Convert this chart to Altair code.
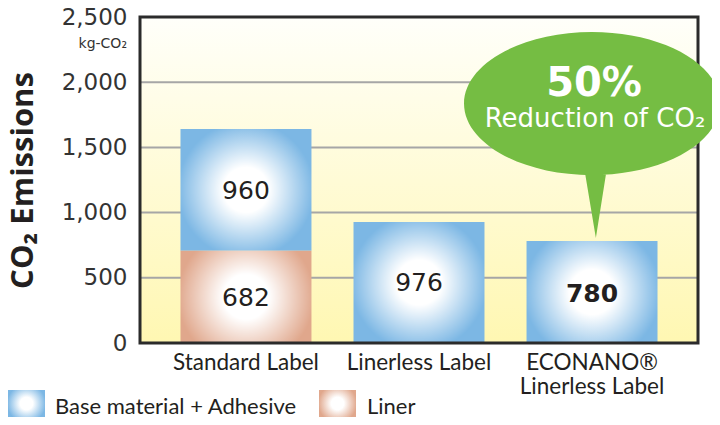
import altair as alt
import pandas as pd

# ---------------- data ----------------
categories = ["Standard Label", "Linerless Label", "ECONANO®\nLinerless Label"]
seg_category = [categories[0], categories[0], categories[1], categories[2]]
seg_kind = ["Liner", "Base material + Adhesive", "Base material + Adhesive", "Base material + Adhesive"]
seg_start = [0, 708, 0, 0]
seg_end = [708, 1641, 928, 782]
seg_label = ["682", "960", "976", "780"]
seg_bold = [False, False, False, True]

y_ticks = [0, 500, 1000, 1500, 2000, 2500]
grid_values = [500, 1000, 1500, 2000]

bubble_center = 1836
bubble_title = "50%"
bubble_title_y = 1986
bubble_sub = "Reduction of CO₂"
bubble_sub_y = 1718

legend_items = ["Base material + Adhesive", "Liner"]

# ---------------- styles ----------------
W, H = 558, 326
BLUE = "#7cb7e4"
LINER = "#e0a78c"
GREEN = "#75bd43"
TEXT = "#231f20"


def radial(color):
    return alt.RadialGradient(
        gradient="radial",
        stops=[alt.GradientStop(color="#ffffff", offset=0),
               alt.GradientStop(color="#ffffff", offset=0.33),
               alt.GradientStop(color=color, offset=1)],
        x1=0.5, y1=0.5, x2=0.5, y2=0.5, r1=0, r2=0.52)


bg_grad = alt.LinearGradient(
    gradient="linear",
    stops=[alt.GradientStop(color="#fffffa", offset=0),
           alt.GradientStop(color="#fff7b2", offset=1)],
    x1=0, y1=0, x2=0, y2=1)

df = pd.DataFrame({
    "cat": seg_category,
    "kind": seg_kind,
    "start": seg_start,
    "end": seg_end,
    "label": seg_label,
    "bold": seg_bold,
})
df["mid"] = (df["start"] + df["end"]) / 2

one = pd.DataFrame({"a": [0]})

x_scale = alt.Scale(domain=categories, paddingInner=0.243, paddingOuter=0.234)
y_scale = alt.Scale(domain=[0, 2500], nice=False)

x_axis = alt.Axis(
    title=None, labelAngle=0, domain=False, ticks=False, labelPadding=8,
    labelFont="Lato", labelFontSize=22.5, labelColor=TEXT, labelLineHeight=24,
    labelBaseline="top", labelExpr="split(datum.label, '\\n')")

y_axis = alt.Axis(
    values=y_ticks, format=",.0f", domain=False, ticks=False, grid=False,
    labelPadding=13, labelFont="DejaVu Sans", labelFontSize=23, labelColor="#333333",
    title="CO₂ Emissions", titleFont="Open Sans", titleFontSize=31, titleFontWeight="bold",
    titleColor=TEXT, titleX=-117, titleY=163, titleAngle=-90, titleAlign="center",
    titleBaseline="middle")

X = alt.X("cat:N", scale=x_scale, axis=x_axis, sort=categories)

background = alt.Chart(one).mark_rect(fill=bg_grad).encode(
    x=alt.value(0), x2=alt.value("width"), y=alt.value(0), y2=alt.value("height"))

grid = alt.Chart(pd.DataFrame({"v": grid_values})).mark_rule(
    color="#a6a6a6", strokeWidth=2).encode(
    y=alt.Y("v:Q", scale=y_scale, axis=y_axis),
    x=alt.value(0), x2=alt.value("width"))

base = alt.Chart(df)

bars_base = base.transform_filter(alt.datum.kind == "Base material + Adhesive").mark_bar(
    fill=radial(BLUE)).encode(
    x=X, y=alt.Y("start:Q", scale=y_scale, axis=y_axis), y2="end:Q")

bars_liner = base.transform_filter(alt.datum.kind == "Liner").mark_bar(
    fill=radial(LINER)).encode(
    x=X, y=alt.Y("start:Q", scale=y_scale, axis=y_axis), y2="end:Q")

frame = alt.Chart(one).mark_rect(
    fillOpacity=0, stroke="#2b2b2b", strokeWidth=3).encode(
    x=alt.value(0), x2=alt.value("width"), y=alt.value(0), y2=alt.value("height"))

labels_normal = base.transform_filter(alt.datum.bold == False).mark_text(
    font="DejaVu Sans", fontSize=25, color=TEXT, baseline="middle", dy=1).encode(
    x=X, y=alt.Y("mid:Q", scale=y_scale, axis=y_axis), text="label:N")

labels_bold = base.transform_filter(alt.datum.bold == True).mark_text(
    font="DejaVu Sans", fontSize=25, fontWeight="bold", color=TEXT, baseline="middle", dy=2).encode(
    x=X, y=alt.Y("mid:Q", scale=y_scale, axis=y_axis), text="label:N")

# speech bubble (ellipse + tail) as a custom symbol, anchored at the ECONANO band
k = 0.5523
ry = 0.559
bubble_path = (
    f"M 1 0 C 1 {k*ry:.3f} {k:.3f} {ry} 0 {ry} "
    f"C {-k:.3f} {ry} -1 {k*ry:.3f} -1 0 "
    f"C -1 {-k*ry:.3f} {-k:.3f} {-ry} 0 {-ry} "
    f"C {k:.3f} {-ry} 1 {-k*ry:.3f} 1 0 Z "
    "M -0.07 0.45 L 0.125 0.45 L 0.03 1.05 Z"
)
bubble_df = pd.DataFrame({"cat": [categories[2]], "y": [bubble_center]})
bubble = alt.Chart(bubble_df).mark_point(
    shape=bubble_path, size=65536, filled=True, color=GREEN, opacity=1, strokeWidth=0).encode(
    x=X, y=alt.Y("y:Q", scale=y_scale, axis=y_axis))

btxt_df = pd.DataFrame({"cat": [categories[2]], "y1": [bubble_title_y], "t1": [bubble_title],
                        "y2": [bubble_sub_y], "t2": [bubble_sub]})
bubble_t1 = alt.Chart(btxt_df).mark_text(
    font="DejaVu Sans", fontSize=40, fontWeight="bold", color="white", baseline="middle", dx=2).encode(
    x=X, y=alt.Y("y1:Q", scale=y_scale, axis=y_axis), text="t1:N")
bubble_t2 = alt.Chart(btxt_df).mark_text(
    font="DejaVu Sans", fontSize=26, color="white", baseline="middle", dx=3).encode(
    x=X, y=alt.Y("y2:Q", scale=y_scale, axis=y_axis), text="t2:N")

unit = alt.Chart(pd.DataFrame({"t": ["kg-CO₂"]})).mark_text(
    font="DejaVu Sans", fontSize=14, color="#333333", align="right", baseline="middle").encode(
    x=alt.value(-13), y=alt.value(27), text="t:N")

# custom legend
leg_sq1 = alt.Chart(one).mark_rect(fill=radial(BLUE)).encode(
    x=alt.value(-132), x2=alt.value(-95), y=alt.value(373), y2=alt.value(400))
leg_sq2 = alt.Chart(one).mark_rect(fill=radial(LINER)).encode(
    x=alt.value(179), x2=alt.value(216), y=alt.value(373), y2=alt.value(400))
leg_t1 = alt.Chart(pd.DataFrame({"t": [legend_items[0]]})).mark_text(
    font="Lato", fontSize=22, color=TEXT, align="left", baseline="middle").encode(
    x=alt.value(-85), y=alt.value(390), text="t:N")
leg_t2 = alt.Chart(pd.DataFrame({"t": [legend_items[1]]})).mark_text(
    font="Lato", fontSize=22, color=TEXT, align="left", baseline="middle").encode(
    x=alt.value(227), y=alt.value(390), text="t:N")

chart = alt.layer(
    background, grid, bars_base, bars_liner, frame, labels_normal, labels_bold,
    bubble, bubble_t1, bubble_t2, unit, leg_sq1, leg_sq2, leg_t1, leg_t2
).properties(
    width=W, height=H,
    autosize=alt.AutoSizeParams(type="none"),
    padding={"left": 132, "top": 9, "right": 14, "bottom": 74},
).configure_view(strokeWidth=0).configure(background="white")

chart.save("out.html", embed_options={"renderer": "svg", "actions": False})
